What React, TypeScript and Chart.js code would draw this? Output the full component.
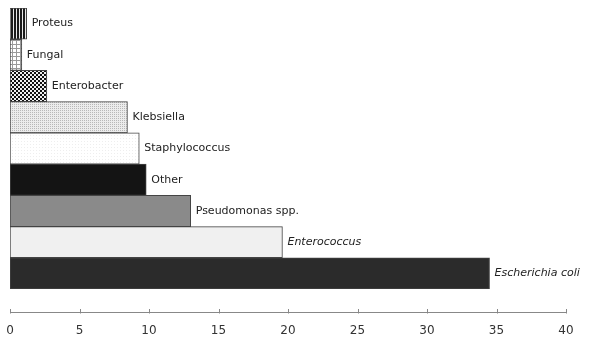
import React, { useEffect, useRef } from "react";
import { Chart, registerables } from "chart.js";

Chart.register(...registerables);

const categories = [
  "Proteus",
  "Fungal",
  "Enterobacter",
  "Klebsiella",
  "Staphylococcus",
  "Other",
  "Pseudomonas spp.",
  "Enterococcus",
  "Escherichia coli",
];
const values = [1.2, 0.85, 2.65, 8.45, 9.3, 9.8, 13.0, 19.6, 34.5];
const italicLabels = [false, false, false, false, false, false, false, true, true];
const xMin = 0;
const xMax = 40;
const xStep = 5;

function makePattern(kind: string): CanvasPattern | string {
  const c = document.createElement("canvas");
  const g = c.getContext("2d")!;
  if (kind === "vstripes") {
    c.width = 3; c.height = 3;
    g.fillStyle = "#1a1a1a"; g.fillRect(0, 0, 3, 3);
    g.fillStyle = "#e8e8e8"; g.fillRect(1, 0, 1, 3);
  } else if (kind === "grid") {
    c.width = 4; c.height = 4;
    g.fillStyle = "#ffffff"; g.fillRect(0, 0, 4, 4);
    g.fillStyle = "#9a9a9a"; g.fillRect(0, 0, 4, 1); g.fillRect(0, 0, 1, 4);
  } else if (kind === "checker") {
    c.width = 4; c.height = 4;
    g.fillStyle = "#111111"; g.fillRect(0, 0, 4, 4);
    g.fillStyle = "#f0f0f0"; g.fillRect(0, 0, 2, 2); g.fillRect(2, 2, 2, 2);
  } else if (kind === "dots") {
    c.width = 2; c.height = 2;
    g.fillStyle = "#ececec"; g.fillRect(0, 0, 2, 2);
    g.fillStyle = "#b8b8b8"; g.fillRect(0, 0, 1, 1);
  } else if (kind === "faint") {
    c.width = 3; c.height = 3;
    g.fillStyle = "#ffffff"; g.fillRect(0, 0, 3, 3);
    g.fillStyle = "#eeeeee"; g.fillRect(0, 0, 1, 1);
  } else {
    return kind;
  }
  const p = g.createPattern(c, "repeat");
  return p || "#888";
}

const barLabelPlugin = {
  id: "barLabels",
  afterDatasetsDraw(chart: any) {
    const ctx = chart.ctx;
    const meta = chart.getDatasetMeta(0);
    ctx.save();
    ctx.fillStyle = "#222";
    ctx.textBaseline = "middle";
    ctx.textAlign = "left";
    meta.data.forEach((el: any, i: number) => {
      ctx.font = (italicLabels[i] ? "italic " : "") + "11px 'DejaVu Sans', sans-serif";
      ctx.fillText(categories[i], el.x + 5, el.y);
    });
    ctx.restore();
  },
};

const axisLinePlugin = {
  id: "axisLine",
  afterDraw(chart: any) {
    const ctx = chart.ctx;
    const xs = chart.scales.x;
    const y = chart.chartArea.bottom + 23.5;
    ctx.save();
    ctx.strokeStyle = "#888";
    ctx.lineWidth = 1;
    ctx.beginPath();
    ctx.moveTo(xs.getPixelForValue(xMin), y);
    ctx.lineTo(xs.getPixelForValue(xMax), y);
    for (let v = xMin; v <= xMax; v += xStep) {
      const px = Math.round(xs.getPixelForValue(v)) + 0.5;
      ctx.moveTo(px, y - 3.5);
      ctx.lineTo(px, y + 1);
    }
    ctx.stroke();
    ctx.restore();
  },
};

export default function App() {
  const ref = useRef<HTMLCanvasElement>(null);
  useEffect(() => {
    if (!ref.current) return;
    const fills = [
      makePattern("vstripes"),
      makePattern("grid"),
      makePattern("checker"),
      makePattern("dots"),
      makePattern("faint"),
      makePattern("#141414"),
      makePattern("#8a8a8a"),
      makePattern("#f0f0f0"),
      makePattern("#2b2b2b"),
    ];
    const chart = new Chart(ref.current, {
      type: "bar",
      data: {
        labels: categories,
        datasets: [
          {
            data: values,
            backgroundColor: fills as any,
            borderColor: "#444",
            borderWidth: 1,
            borderSkipped: false,
            barPercentage: 1,
            categoryPercentage: 1,
          },
        ],
      },
      options: {
        indexAxis: "y",
        animation: false,
        responsive: false,
        maintainAspectRatio: false,
        layout: { padding: { left: 10, right: 24, top: 8, bottom: 4 } },
        plugins: { legend: { display: false }, tooltip: { enabled: false } },
        scales: {
          y: { display: false },
          x: {
            min: xMin,
            max: xMax,
            grid: { display: false, drawTicks: false },
            border: { display: false },
            afterFit(scale: any) {
              scale.height = 47;
              scale.paddingLeft = 0;
              scale.paddingRight = 0;
            },
            ticks: {
              stepSize: xStep,
              padding: 35,
              color: "#333",
              font: { size: 12, family: "'DejaVu Sans', sans-serif" },
            },
          },
        },
      },
      plugins: [barLabelPlugin, axisLinePlugin],
    });
    return () => chart.destroy();
  }, []);
  return (
    <div style={{ position: "fixed", left: 0, top: 0, width: 590, height: 340, background: "#fff" }}>
      <canvas ref={ref} width={590} height={340} style={{ width: 590, height: 340 }} />
    </div>
  );
}
